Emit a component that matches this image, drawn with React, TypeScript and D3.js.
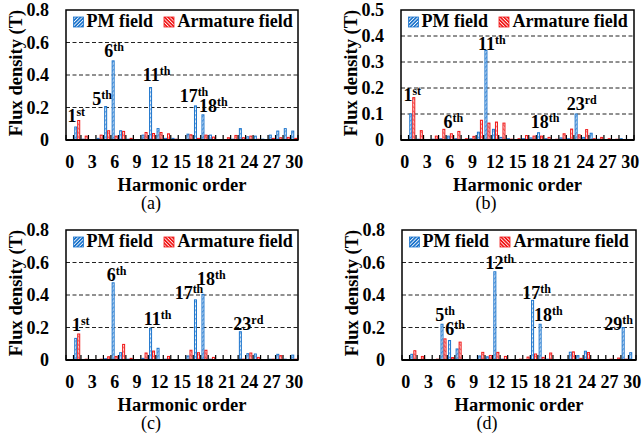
import React from "react";
import * as d3 from "d3";

// ---------- data ----------
const orders = d3.range(0, 31);
const xTickLabels = [0, 3, 6, 9, 12, 15, 18, 21, 24, 27, 30];
const seriesNames = ["PM field", "Armature field"];

const pmA = [0, 0.08, 0.005, 0, 0.01, 0.206, 0.487, 0.057, 0.005, 0.003, 0.03, 0.323, 0.07, 0.01, 0.01, 0.003, 0.036, 0.21, 0.155, 0.03, 0.003, 0.003, 0.005, 0.07, 0.02, 0.024, 0.005, 0.03, 0.055, 0.07, 0.055];
const armA = [0, 0.12, 0.024, 0.003, 0.03, 0.057, 0.024, 0.053, 0.01, 0.003, 0.046, 0.04, 0.046, 0.038, 0.005, 0.003, 0.032, 0.01, 0.03, 0.018, 0.003, 0.014, 0.028, 0.014, 0.024, 0.005, 0.003, 0.01, 0.014, 0.016, 0.01];

const pmB = [0, 0.1, 0.003, 0.002, 0.003, 0.005, 0.015, 0.005, 0.002, 0.005, 0.03, 0.345, 0.041, 0.01, 0.005, 0.002, 0.005, 0.008, 0.028, 0.005, 0.002, 0.008, 0.005, 0.1, 0.01, 0.026, 0.003, 0.002, 0.002, 0.005, 0.002];
const armB = [0, 0.163, 0.036, 0.002, 0.015, 0.041, 0.024, 0.033, 0.005, 0.014, 0.076, 0.065, 0.069, 0.065, 0.003, 0.005, 0.017, 0.015, 0.015, 0.01, 0.003, 0.024, 0.042, 0.02, 0.04, 0.005, 0.01, 0.005, 0.003, 0.002, 0.002];

const pmC = [0, 0.133, 0.003, 0, 0.003, 0.008, 0.475, 0.045, 0.005, 0.002, 0.01, 0.195, 0.072, 0.005, 0.003, 0.002, 0.025, 0.37, 0.404, 0.005, 0.002, 0.002, 0.003, 0.174, 0.039, 0.037, 0.003, 0.005, 0.035, 0.005, 0.03];
const armC = [0, 0.16, 0.005, 0.002, 0.005, 0.02, 0.022, 0.096, 0.01, 0.002, 0.043, 0.055, 0.003, 0.022, 0.003, 0.002, 0.06, 0.045, 0.06, 0.016, 0.002, 0.002, 0.002, 0.005, 0.043, 0.016, 0.002, 0.005, 0.027, 0.003, 0.005];

const pmD = [0, 0.035, 0.003, 0.002, 0.002, 0.22, 0.12, 0.068, 0.003, 0.002, 0.025, 0.02, 0.543, 0.005, 0.003, 0.002, 0.003, 0.367, 0.22, 0.005, 0.002, 0.003, 0.048, 0.027, 0.054, 0.003, 0.002, 0.002, 0.003, 0.2, 0.045];
const armD = [0, 0.057, 0.022, 0.002, 0.005, 0.13, 0.015, 0.11, 0.003, 0.002, 0.047, 0.028, 0.047, 0.022, 0.003, 0.005, 0.018, 0.037, 0.016, 0.043, 0.002, 0.002, 0.05, 0.01, 0.046, 0.003, 0.002, 0.005, 0.012, 0.005, 0.003];

// annotations: [order, number, suffix]
const notesA = [[1, "1", "st"], [5, "5", "th"], [6, "6", "th"], [11, "11", "th"], [17, "17", "th"], [18, "18", "th"]];
const notesB = [[1, "1", "st"], [6, "6", "th"], [11, "11", "th"], [18, "18", "th"], [23, "23", "rd"]];
const notesC = [[1, "1", "st"], [6, "6", "th"], [11, "11", "th"], [17, "17", "th"], [18, "18", "th"], [23, "23", "rd"]];
const notesD = [[5, "5", "th"], [6, "6", "th"], [12, "12", "th"], [17, "17", "th"], [18, "18", "th"], [29, "29", "th"]];

// ---------- layout (positions kept apart from data) ----------
// label nudges: [dx from category centre, baseline from plot top]
const noteLayoutA = [[-1, 112], [-5, 95], [-0.5, 47], [4.5, 71], [-3, 92], [9, 102]];
const noteLayoutB = [[0, 91], [3.6, 118], [4.5, 40], [5, 118], [4, 100]];
const noteLayoutC = [[3.5, 101], [2, 50.5], [5.5, 95], [-8, 69], [7, 55], [6.5, 100]];
const noteLayoutD = [[1.5, 90.5], [4, 105], [3.6, 39], [2.6, 69], [6.6, 90.5], [-6, 100]];

const panels = [
  { id: "a", left: 66, top: 10, w: 232, h: 130, yMax: 0.8, yStep: 0.2, pm: pmA, arm: armA, notes: notesA, layout: noteLayoutA },
  { id: "b", left: 401, top: 10, w: 233, h: 130, yMax: 0.5, yStep: 0.1, pm: pmB, arm: armB, notes: notesB, layout: noteLayoutB },
  { id: "c", left: 66, top: 230, w: 232, h: 130, yMax: 0.8, yStep: 0.2, pm: pmC, arm: armC, notes: notesC, layout: noteLayoutC },
  { id: "d", left: 402, top: 230, w: 234, h: 130, yMax: 0.8, yStep: 0.2, pm: pmD, arm: armD, notes: notesD, layout: noteLayoutD },
];

const FONT = "Liberation Serif, Times New Roman, Times, DejaVu Serif, serif";
const BLUE = "#1c74cc";
const RED = "#f01818";
const bold = { fontFamily: FONT, fontWeight: 700 as const };

function Panel({ p }: { p: any }) {
  const x = d3
    .scaleBand<string>()
    .domain(orders.map(String))
    .range([p.left, p.left + p.w])
    .paddingInner(0.2)
    .paddingOuter(0.1);
  const sub = d3.scaleBand<string>().domain(seriesNames).range([0, x.bandwidth()]).padding(0);
  const y = d3.scaleLinear().domain([0, p.yMax]).range([p.top + p.h, p.top]);
  const yTicks = d3.range(0, p.yMax + 1e-9, p.yStep);
  const step = x.step();
  const centre = (n: number) => (x(String(n)) as number) + x.bandwidth() / 2;
  const bottom = p.top + p.h;
  const boundaries = d3.range(0, orders.length + 1).map((i) => p.left + i * step);

  const bars: any[] = [];
  orders.forEach((n, i) => {
    [
      [seriesNames[0], p.pm[i], BLUE, "hatchBlue"],
      [seriesNames[1], p.arm[i], RED, "hatchRed"],
    ].forEach(([s, v, c, pat]: any) => {
      const bx = (x(String(n)) as number) + (sub(s) as number);
      const by = y(v);
      bars.push(
        <rect
          key={`${s}-${n}`}
          x={bx + 0.5}
          y={by}
          width={sub.bandwidth() - 1}
          height={Math.max(0, bottom - by)}
          fill={`url(#${pat})`}
          stroke={c}
          strokeWidth={1}
        />
      );
    });
  });

  return (
    <g>
      {yTicks
        .filter((t) => t > 1e-9 && t < p.yMax - 1e-9)
        .map((t) => (
          <line key={t} x1={p.left} x2={p.left + p.w} y1={y(t)} y2={y(t)} stroke="#222" strokeWidth={1} strokeDasharray="4,2.5" />
        ))}
      {bars}
      {boundaries.map((bx, i) => (
        <line key={i} x1={bx} x2={bx} y1={bottom - 5} y2={bottom} stroke="#000" strokeWidth={1.2} />
      ))}
      <rect x={p.left} y={p.top} width={p.w} height={p.h} fill="none" stroke="#000" strokeWidth={1.5} />
      <line x1={p.left} x2={p.left + p.w} y1={bottom} y2={bottom} stroke="#000" strokeWidth={2} />
      {yTicks.map((t) => (
        <text key={t} x={p.left - 17} y={y(t)} dy="0.35em" textAnchor="end" style={{ ...bold, fontSize: 18 }}>
          {t < 1e-9 ? "0" : t.toFixed(1)}
        </text>
      ))}
      {xTickLabels.map((t) => (
        <text key={t} x={centre(t)} y={bottom + 28} textAnchor="middle" style={{ ...bold, fontSize: 18 }}>
          {t}
        </text>
      ))}
      <text
        transform={`translate(${p.left - 44},${p.top + p.h / 2 - 2}) rotate(-90)`}
        textAnchor="middle"
        style={{ ...bold, fontSize: 18.5 }}
      >
        Flux density (T)
      </text>
      <text x={p.left + p.w / 2} y={bottom + 51} textAnchor="middle" style={{ ...bold, fontSize: 18.5 }}>
        Harmonic order
      </text>
      <text x={p.left + 85} y={bottom + 69} textAnchor="middle" style={{ fontFamily: FONT, fontSize: 18 }}>
        ({p.id})
      </text>
      <g>
        <rect x={p.left + 7.5} y={p.top + 7} width={10} height={10} fill="url(#legBlue)" stroke={BLUE} strokeWidth={0.8} />
        <text x={p.left + 20.5} y={p.top + 17} style={{ ...bold, fontSize: 18 }}>
          {seriesNames[0]}
        </text>
        <rect x={p.left + 98} y={p.top + 7} width={10} height={10} fill="url(#legRed)" stroke={RED} strokeWidth={0.8} />
        <text x={p.left + 111.5} y={p.top + 17} style={{ ...bold, fontSize: 18 }}>
          {seriesNames[1]}
        </text>
      </g>
      {p.notes.map((nt: any, i: number) => {
        const [n, num, suf] = nt;
        const [dx, by] = p.layout[i];
        return (
          <text key={i} x={centre(n) + dx} y={p.top + by} textAnchor="middle" style={{ ...bold, fontSize: 18 }}>
            <tspan>{num}</tspan>
            <tspan style={{ fontSize: 12 }} dy={-6}>
              {suf}
            </tspan>
          </text>
        );
      })}
    </g>
  );
}

export default function App() {
  return (
    <svg
      width={643}
      height={439}
      viewBox="0 0 643 439"
      style={{ position: "absolute", left: 0, top: 0, background: "#fff" }}
    >
      <defs>
        <pattern id="hatchBlue" width={3} height={3} patternUnits="userSpaceOnUse" patternTransform="rotate(45)">
          <rect width={3} height={3} fill="#ffffff" />
          <rect width={1.3} height={3} fill="#6aa9e6" />
        </pattern>
        <pattern id="hatchRed" width={3} height={3} patternUnits="userSpaceOnUse" patternTransform="rotate(-45)">
          <rect width={3} height={3} fill="#ffffff" />
          <rect width={1.3} height={3} fill="#f57a7a" />
        </pattern>
        <pattern id="legBlue" width={2.5} height={2.5} patternUnits="userSpaceOnUse" patternTransform="rotate(45)">
          <rect width={2.5} height={2.5} fill={BLUE} />
          <rect width={0.8} height={2.5} fill="#ffffff" />
        </pattern>
        <pattern id="legRed" width={2.5} height={2.5} patternUnits="userSpaceOnUse" patternTransform="rotate(-45)">
          <rect width={2.5} height={2.5} fill={RED} />
          <rect width={0.8} height={2.5} fill="#ffffff" />
        </pattern>
      </defs>
      <rect width={643} height={439} fill="#fff" />
      {panels.map((p) => (
        <Panel key={p.id} p={p} />
      ))}
    </svg>
  );
}
